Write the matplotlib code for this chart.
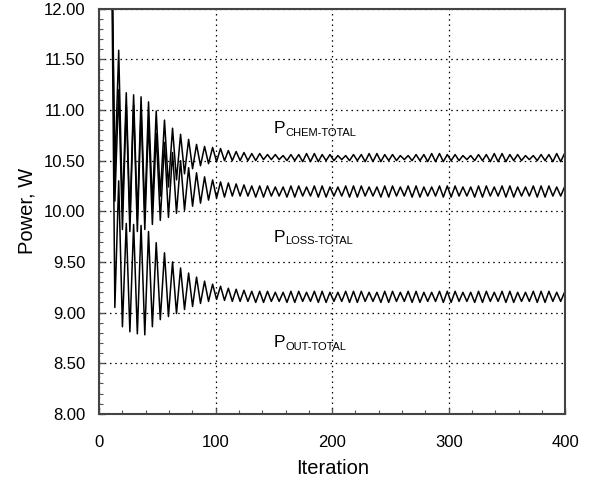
import numpy as np
import matplotlib
matplotlib.use('Agg')
import matplotlib.pyplot as plt
from matplotlib.ticker import MultipleLocator, FormatStrFormatter

plt.rcParams['font.family'] = ['Liberation Sans', 'DejaVu Sans']

# iterations of the turning points (start point, then trough/peak alternating)
ext_iter = [10.0,
    13.5, 16.8, 20.0, 23.3, 26.4, 29.6, 32.8, 36.0, 39.2, 42.4,
    45.7, 49.0, 52.5, 56.1, 59.5, 63.0, 66.4, 69.9, 73.3, 76.8,
    80.2, 83.6, 87.0, 90.5, 93.9, 97.4, 100.8, 104.2,
    107.6, 110.9, 114.3, 117.6, 121.0, 124.3, 127.7, 131.0, 134.4, 137.8,
    141.1, 144.5, 147.8, 151.2, 154.5, 157.9, 161.2, 164.6, 167.9, 171.3,
    174.7, 178.0, 181.4, 184.7, 188.1, 191.4, 194.8, 198.1, 201.5, 204.9,
    208.2, 211.6, 214.9, 218.3, 221.6, 225.0, 228.3, 231.7, 235.0, 238.4,
    241.8, 245.1, 248.5, 251.8, 255.2, 258.5, 261.9, 265.2, 268.6, 272.0,
    275.3, 278.7, 282.0, 285.4, 288.7, 292.1, 295.4, 298.8, 302.1, 305.5,
    308.9, 312.2, 315.6, 318.9, 322.3, 325.6, 329.0, 332.3, 335.7, 339.1,
    342.4, 345.8, 349.1, 352.5, 355.8, 359.2, 362.5, 365.9, 369.2, 372.6,
    376.0, 379.3, 382.7, 386.0, 389.4, 392.7, 396.1, 399.4, 402.8]

p_chem = [13.5,
    10.40, 11.59, 10.00, 11.17, 9.92, 11.15, 9.92, 11.13, 9.97, 11.08,
    10.05, 10.99, 10.15, 10.90, 10.24, 10.82, 10.31, 10.76, 10.37, 10.71,
    10.42, 10.66, 10.45, 10.64, 10.47, 10.63, 10.49, 10.62,
    10.50, 10.60, 10.50, 10.59, 10.50, 10.58, 10.50, 10.57, 10.50, 10.57,
    10.51, 10.56, 10.51, 10.56, 10.51, 10.55, 10.50, 10.56, 10.50, 10.56,
    10.49, 10.57, 10.49, 10.57, 10.49, 10.56, 10.50, 10.56, 10.50, 10.55,
    10.51, 10.55, 10.50, 10.56, 10.50, 10.56, 10.49, 10.57, 10.49, 10.57,
    10.49, 10.56, 10.50, 10.56, 10.50, 10.55, 10.51, 10.55, 10.50, 10.56,
    10.50, 10.56, 10.49, 10.57, 10.49, 10.57, 10.49, 10.56, 10.50, 10.56,
    10.50, 10.55, 10.51, 10.55, 10.50, 10.56, 10.50, 10.56, 10.49, 10.57,
    10.49, 10.57, 10.49, 10.56, 10.50, 10.56, 10.50, 10.55, 10.51, 10.55,
    10.50, 10.56, 10.50, 10.56, 10.49, 10.57, 10.49, 10.57, 10.49]

p_loss = [13.5,
    10.10, 11.20, 9.82, 11.05, 9.80, 11.05, 9.80, 11.00, 9.82, 10.90,
    9.87, 10.77, 9.91, 10.68, 9.94, 10.58, 9.98, 10.50, 10.01, 10.43,
    10.05, 10.38, 10.08, 10.34, 10.11, 10.31, 10.13, 10.29,
    10.14, 10.28, 10.15, 10.27, 10.15, 10.26, 10.15, 10.25, 10.14, 10.25,
    10.14, 10.25, 10.15, 10.24, 10.15, 10.24, 10.14, 10.25, 10.14, 10.25,
    10.15, 10.24, 10.15, 10.25, 10.14, 10.25, 10.14, 10.24, 10.15, 10.24,
    10.15, 10.25, 10.14, 10.25, 10.14, 10.25, 10.15, 10.24, 10.15, 10.24,
    10.14, 10.25, 10.14, 10.25, 10.15, 10.24, 10.15, 10.25, 10.14, 10.25,
    10.14, 10.24, 10.15, 10.24, 10.15, 10.25, 10.14, 10.25, 10.14, 10.25,
    10.15, 10.24, 10.15, 10.24, 10.14, 10.25, 10.14, 10.25, 10.15, 10.24,
    10.15, 10.25, 10.14, 10.25, 10.14, 10.24, 10.15, 10.24, 10.15, 10.25,
    10.14, 10.25, 10.14, 10.25, 10.15, 10.24, 10.15, 10.24, 10.14]

p_out = [13.5,
    9.05, 10.30, 8.86, 9.88, 8.81, 9.87, 8.79, 9.86, 8.78, 9.80,
    8.86, 9.69, 8.93, 9.59, 8.96, 9.50, 8.99, 9.44, 9.03, 9.39,
    9.06, 9.35, 9.09, 9.31, 9.11, 9.28, 9.13, 9.26,
    9.12, 9.24, 9.11, 9.23, 9.11, 9.22, 9.11, 9.21, 9.10, 9.21,
    9.10, 9.21, 9.11, 9.20, 9.11, 9.20, 9.10, 9.21, 9.10, 9.21,
    9.11, 9.20, 9.11, 9.21, 9.10, 9.21, 9.10, 9.20, 9.11, 9.20,
    9.11, 9.21, 9.10, 9.21, 9.10, 9.21, 9.11, 9.20, 9.11, 9.20,
    9.10, 9.21, 9.10, 9.21, 9.11, 9.20, 9.11, 9.21, 9.10, 9.21,
    9.10, 9.20, 9.11, 9.20, 9.11, 9.21, 9.10, 9.21, 9.10, 9.21,
    9.11, 9.20, 9.11, 9.20, 9.10, 9.21, 9.10, 9.21, 9.11, 9.20,
    9.11, 9.21, 9.10, 9.21, 9.10, 9.20, 9.11, 9.20, 9.11, 9.21,
    9.10, 9.21, 9.10, 9.21, 9.11, 9.20, 9.11, 9.20, 9.10]

# curve labels: (iteration, value, subscript)
labels = [(149.6, 10.77, 'CHEM-TOTAL'),
          (149.6, 9.70, 'LOSS-TOTAL'),
          (149.6, 8.655, 'OUT-TOTAL')]

fig = plt.figure(figsize=(5.9, 4.84), dpi=100)
ax = fig.add_axes([0.168, 0.145, 0.790, 0.837])

for series in (p_chem, p_loss, p_out):
    ax.plot(ext_iter, series, color='black', lw=1.1,
            solid_joinstyle='round', clip_on=True)

for x, y, sub in labels:
    ax.text(x, y, 'P', fontsize=12.5, ha='left', va='baseline')
    ax.annotate(sub, xy=(x, y), xytext=(8.7, -2), textcoords='offset points',
                fontsize=8, ha='left', va='baseline')

ax.set_xlim(0, 400)
ax.set_ylim(8.0, 12.0)
ax.xaxis.set_major_locator(MultipleLocator(100))
ax.xaxis.set_minor_locator(MultipleLocator(20))
ax.yaxis.set_major_locator(MultipleLocator(0.5))
ax.yaxis.set_minor_locator(MultipleLocator(0.1))
ax.yaxis.set_major_formatter(FormatStrFormatter('%.2f'))

ax.grid(True, which='major', color='black', linestyle=(0, (1.2, 3)), lw=0.9)
ax.tick_params(which='both', direction='in', top=False, right=False,
               labelsize=12, color='#555555')
ax.tick_params(which='major', length=4, width=1)
ax.tick_params(which='minor', length=3, width=0.8)
ax.tick_params(axis='y', pad=10)
ax.tick_params(axis='x', pad=15)
for sp in ax.spines.values():
    sp.set_color('#444444')
    sp.set_linewidth(1.5)

ax.set_xlabel('Iteration', fontsize=14.5, labelpad=7)
ax.set_ylabel('Power, W', fontsize=14.5, labelpad=5)

fig.savefig('out.png', dpi=100)
